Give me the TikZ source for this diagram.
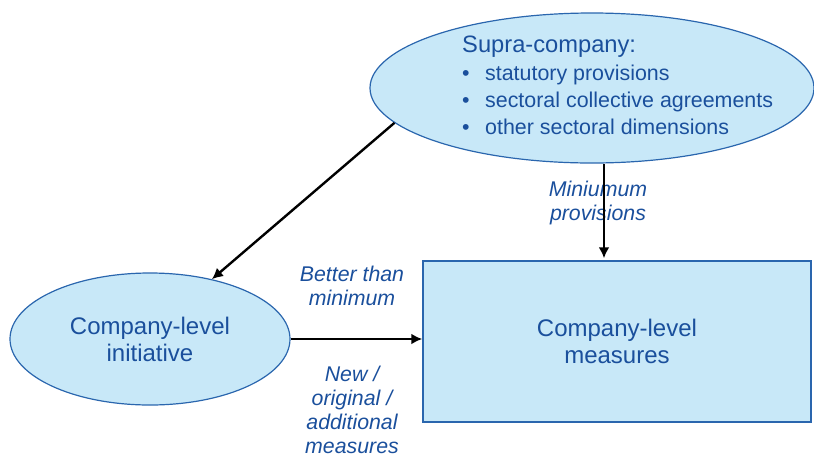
\documentclass[tikz,border=0pt]{standalone}
\usepackage{fontspec}
\setmainfont{Liberation Sans}
\usetikzlibrary{shapes.geometric,arrows.meta}

\definecolor{boxfill}{HTML}{C8E8F8}
\definecolor{boxline}{HTML}{2A66AE}
\definecolor{textblue}{HTML}{1A4F9C}

\tikzset{
  blob/.style={ellipse, draw=boxline, line width=1.2pt, fill=boxfill, text=textblue, align=center, inner sep=0pt},
  box/.style={rectangle, draw=boxline, line width=1.5pt, fill=boxfill, text=textblue, align=center, inner sep=0pt},
  flow/.style={line width=2.4pt, -{Latex[length=11pt,width=11pt]}},
  note/.style={text=textblue, align=center, inner sep=0pt, font=\fontsize{21.3}{24}\selectfont\itshape}
}
\newcommand{\supitem}{\makebox[23pt][l]{\textbullet}}

\begin{document}
\begin{tikzpicture}[x=1pt,y=-1pt]
    \useasboundingbox (0,0) rectangle (814,459);

    % the three blocks
    \node[blob, minimum width=444pt, minimum height=150pt] (supra) at (592,88) {};
    \node[anchor=north west, text=textblue, align=left, inner sep=0pt, font=\fontsize{21.4}{27}\selectfont] (supratext) at (462,36)
        {{\fontsize{23.7}{28}\selectfont Supra-company:}\\[1pt]
         \supitem statutory provisions\\
         \supitem sectoral collective agreements\\
         \supitem other sectoral dimensions};

    \node[blob, minimum width=280pt, minimum height=132pt, font=\fontsize{24}{27}\selectfont] (init) at (150,339) {Company-level\\initiative};
    \node[box, minimum width=388pt, minimum height=161pt, font=\fontsize{24}{27}\selectfont] (meas) at (617,341.5) {Company-level\\measures};

    % labels on the arrows
    \node[note] (minprov) at (598,203) {Miniumum\\provisions};
    \node[note] (better) at (352,286) {Better than\\minimum};
    \node[note] (neworig) at (352,410) {New /\\original /\\additional\\measures};

    % arrows
    \draw[flow] (supra.190) -- (init.44);
    \draw[flow] ([xshift=12pt]supra.south) -- ([xshift=12pt,yshift=2pt]supra.south |- meas.north);
    \draw[flow] (init.east) -- (init.east -| meas.west);
\end{tikzpicture}
\end{document}
